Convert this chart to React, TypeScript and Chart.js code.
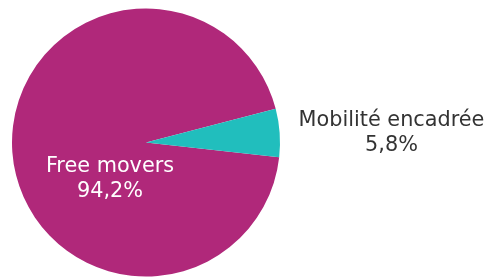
import React, { useEffect, useRef } from "react";
import { Chart, registerables } from "chart.js";

Chart.register(...registerables);

const categories = ["Free movers", "Mobilité encadrée"];
const values = [94.2, 5.8];
const valueLabels = ["94,2%", "5,8%"];
const colors = ["#B0287A", "#21BEBD"];
const textColors = ["#FFFFFF", "#333333"];

const labelPlugin = {
  id: "sliceLabels",
  afterDatasetsDraw(chart: any, _args: any, opts: any) {
    const meta = chart.getDatasetMeta(0);
    const ctx = chart.ctx;
    const offsets = opts.offsets as number[][];
    ctx.save();
    ctx.font = "20.8px 'DejaVu Sans'";
    ctx.textAlign = "center";
    ctx.textBaseline = "middle";
    meta.data.forEach((arc: any, i: number) => {
      const cx = arc.x + offsets[i][0];
      const cy = arc.y + offsets[i][1];
      ctx.fillStyle = textColors[i];
      ctx.fillText(categories[i], cx, cy - 12.5);
      ctx.fillText(valueLabels[i], cx, cy + 12.5);
    });
    ctx.restore();
  },
};

export default function App() {
  const ref = useRef<HTMLCanvasElement>(null);
  useEffect(() => {
    document.body.style.margin = "0";
    const chart = new Chart(ref.current!, {
      type: "pie",
      data: {
        labels: categories,
        datasets: [
          {
            data: values,
            backgroundColor: colors,
            borderWidth: 0,
          },
        ],
      },
      options: {
        responsive: false,
        animation: false,
        rotation: 96.3,
        layout: { padding: { left: 12, right: 209, top: 8, bottom: 0 } },
        plugins: {
          legend: { display: false },
          tooltip: { enabled: false },
          sliceLabels: { offsets: [[-36, 37], [245.5, -9.5]] },
        } as any,
      },
      plugins: [labelPlugin],
    });
    return () => chart.destroy();
  }, []);
  return (
    <div style={{ width: 489, height: 277, background: "#fff" }}>
      <canvas ref={ref} width={489} height={277} />
    </div>
  );
}
